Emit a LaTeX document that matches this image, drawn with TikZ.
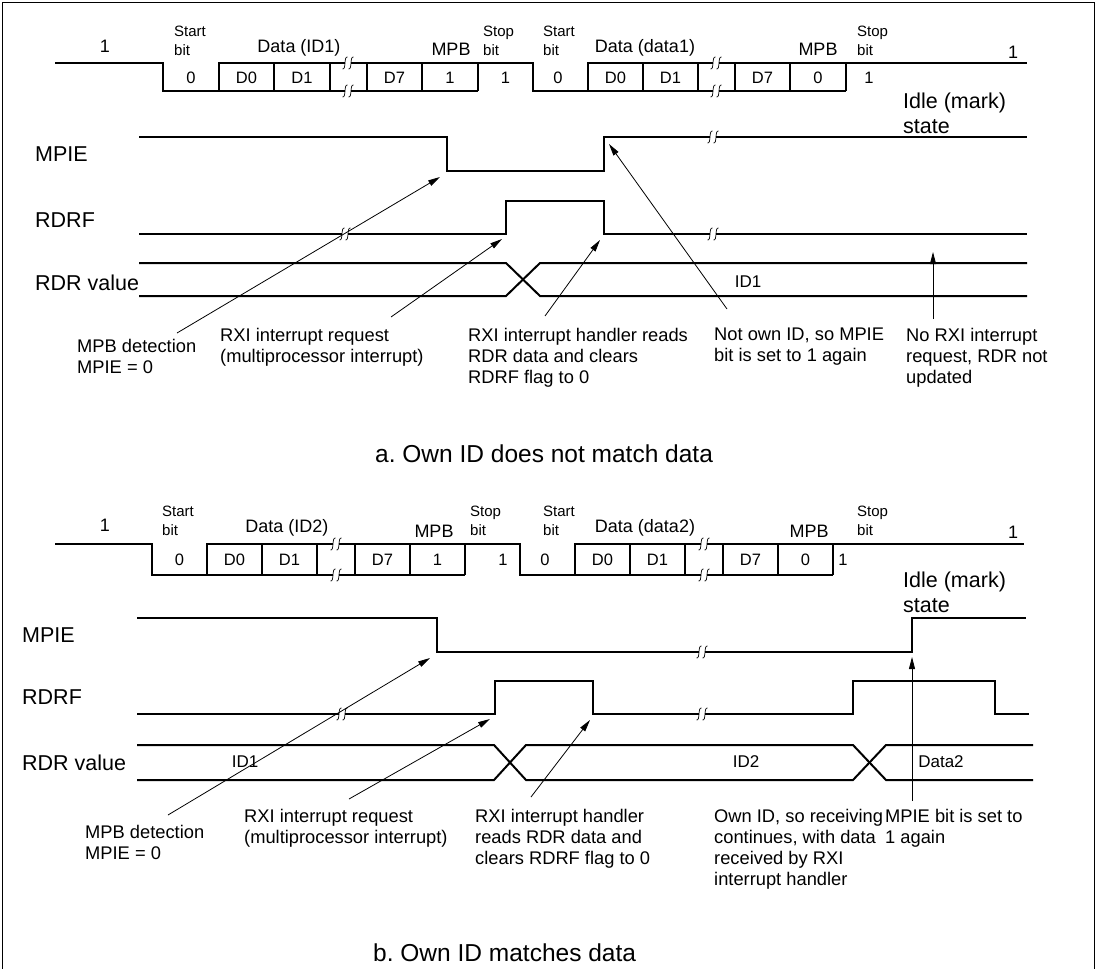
\documentclass[tikz,border=0pt]{standalone}
\usepackage{fontspec}
\setmainfont{Liberation Sans}
\usetikzlibrary{arrows.meta}
\frenchspacing
\newcommand\brkmark[2]{%
  \fill[white] (#1-3,#2-3.5) rectangle (#1+3,#2+3.5);
  \draw[line width=0.7pt] (#1-0.5,#2-6) .. controls (#1-4.5,#2-7) and (#1-1.5,#2+7) .. (#1-5.5,#2+6);
  \draw[line width=0.7pt] (#1+5.5,#2-6) .. controls (#1+1.5,#2-7) and (#1+4.5,#2+7) .. (#1+0.5,#2+6);
}
\tikzset{
  wave/.style={line width=2pt, line join=miter},
  arr/.style={line width=0.8pt, -{Triangle[length=12pt,width=6pt]}},
  note/.style={font=\fontsize{18.3}{21}\selectfont, align=left, anchor=north west, inner sep=0pt},
  sig/.style={font=\fontsize{21.5}{25}\selectfont, align=left, anchor=west, inner sep=0pt},
  idle/.style={font=\fontsize{21.5}{25}\selectfont, align=left, anchor=north west, inner sep=0pt},
  sbit/.style={font=\fontsize{15}{19}\selectfont, align=left, anchor=north west, inner sep=0pt},
  hdr/.style={font=\fontsize{18}{21}\selectfont, inner sep=0pt},
  bitv/.style={font=\fontsize{16.5}{19}\selectfont, inner sep=0pt},
  val/.style={font=\fontsize{17}{19}\selectfont, inner sep=0pt},
  capt/.style={font=\fontsize{24.5}{28}\selectfont, anchor=west, inner sep=0pt},
}
\begin{document}
\begin{tikzpicture}[x=1pt,y=-1pt]
\useasboundingbox (0,0) rectangle (1098,969);
% frame
\draw[line width=1pt] (2,969) -- (2,2) -- (1094,2) -- (1094,969);

% ================= Section a =================
% serial frame
\draw[wave] (55,63) -- (163,63) -- (163,91) -- (478,91);
\draw[wave] (219,91) -- (219,63) -- (533,63) -- (533,91) -- (846,91);
\draw[wave] (588,91) -- (588,63) -- (1027,63);
\foreach \x in {274,330,367,422,478,643,698,735,790,846} \draw[wave] (\x,63) -- (\x,91);
\brkmark{348}{63}\brkmark{348}{91}\brkmark{716}{63}\brkmark{716}{91}
% header labels
\node[hdr] (a1) at (105,46) {1};
\node[sbit] (asb1) at (174,26) {Start\\bit};
\node[hdr] (ad1) at (299,48) {Data (ID1)};
\node[hdr] (ampb1) at (451,49) {MPB};
\node[sbit] (astp1) at (483,26) {Stop\\bit};
\node[sbit] (asb2) at (543,26) {Start\\bit};
\node[hdr] (ad2) at (645,48) {Data (data1)};
\node[hdr] (ampb2) at (818,49) {MPB};
\node[sbit] (astp2) at (857,26) {Stop\\bit};
\node[hdr] (a1r) at (1013,52) {1};
\node[idle] (aidle) at (903,93) {Idle (mark)\\state};
% bit values
\node[bitv] (av1) at (191,78) {0};
\node[bitv] (av2) at (246.5,78) {D0};
\node[bitv] (av3) at (302,78) {D1};
\node[bitv] (av4) at (394.5,78) {D7};
\node[bitv] (av5) at (450,78) {1};
\node[bitv] (av6) at (505.5,78) {1};
\node[bitv] (av7) at (558,78) {0};
\node[bitv] (av8) at (615.5,78) {D0};
\node[bitv] (av9) at (670.5,78) {D1};
\node[bitv] (av10) at (762.5,78) {D7};
\node[bitv] (av11) at (818,78) {0};
\node[bitv] (av12) at (869,78) {1};
% signal labels
\node[sig] (ampie) at (35,154) {MPIE};
\node[sig] (ardrf) at (35,220) {RDRF};
\node[sig] (ardr) at (35,283) {RDR value};
% MPIE
\draw[wave] (139,137) -- (447,137) -- (447,171) -- (604,171) -- (604,137) -- (1027,137);
\brkmark{713}{137}
% RDRF
\draw[wave] (139,234) -- (506,234) -- (506,201) -- (604,201) -- (604,234) -- (1027,234);
\brkmark{345}{234}\brkmark{713}{234}
% RDR value
\draw[wave] (139,263) -- (506,263) -- (540,296) -- (1027,296);
\draw[wave] (139,296) -- (506,296) -- (540,263) -- (1027,263);
\node[val] (aid1) at (748,282) {ID1};
% annotations
\node[note] (an1) at (77,339) {MPB detection\\MPIE = 0};
\node[note] (an2) at (220,328) {RXI interrupt request\\(multiprocessor interrupt)};
\node[note] (an3) at (468,328) {RXI interrupt handler reads\\RDR data and clears\\RDRF flag to 0};
\node[note] (an4) at (714,328) {Not own ID, so MPIE\\bit is set to 1 again};
\node[note] (an5) at (906,328) {No RXI interrupt\\request, RDR not\\updated};
\coordinate (as1) at (177,333); \coordinate (at1) at (440,177);
\coordinate (as2) at (391,317); \coordinate (at2) at (502,239);
\coordinate (as3) at (545,316); \coordinate (at3) at (600,240);
\coordinate (as4) at (727,309); \coordinate (at4) at (609,144);
\coordinate (as5) at (933,319); \coordinate (at5) at (933,252);
\draw[arr] (as1) -- (at1);
\draw[arr] (as2) -- (at2);
\draw[arr] (as3) -- (at3);
\draw[arr] (as4) -- (at4);
\draw[arr] (as5) -- (at5);
\node[capt] (capa) at (375,454) {a. Own ID does not match data};

% ================= Section b =================
\draw[wave] (55,544) -- (152,544) -- (152,575) -- (465,575);
\draw[wave] (207,575) -- (207,544) -- (520,544) -- (520,575) -- (833,575);
\draw[wave] (575,575) -- (575,544) -- (1024,544);
\foreach \x in {262,317,355,410,465,630,685,723,778,833} \draw[wave] (\x,544) -- (\x,575);
\brkmark{336}{544}\brkmark{336}{575}\brkmark{704}{544}\brkmark{704}{575}
\node[hdr] (b1) at (105,525) {1};
\node[sbit] (bsb1) at (162,506) {Start\\bit};
\node[hdr] (bd1) at (287,528) {Data (ID2)};
\node[hdr] (bmpb1) at (434,531) {MPB};
\node[sbit] (bstp1) at (470,506) {Stop\\bit};
\node[sbit] (bsb2) at (543,506) {Start\\bit};
\node[hdr] (bd2) at (645,528) {Data (data2)};
\node[hdr] (bmpb2) at (809,531) {MPB};
\node[sbit] (bstp2) at (857,506) {Stop\\bit};
\node[hdr] (b1r) at (1013,532) {1};
\node[idle] (bidle) at (903,572) {Idle (mark)\\state};
\node[bitv] (bv1) at (179.5,560) {0};
\node[bitv] (bv2) at (234.5,560) {D0};
\node[bitv] (bv3) at (289.5,560) {D1};
\node[bitv] (bv4) at (382.5,560) {D7};
\node[bitv] (bv5) at (437.5,560) {1};
\node[bitv] (bv6) at (503,560) {1};
\node[bitv] (bv7) at (545,560) {0};
\node[bitv] (bv8) at (602.5,560) {D0};
\node[bitv] (bv9) at (657.5,560) {D1};
\node[bitv] (bv10) at (750.5,560) {D7};
\node[bitv] (bv11) at (805.5,560) {0};
\node[bitv] (bv12) at (843,560) {1};
\node[sig] (bmpie) at (22,635) {MPIE};
\node[sig] (brdrf) at (22,697) {RDRF};
\node[sig] (brdr) at (22,763) {RDR value};
% MPIE
\draw[wave] (137,618) -- (437,618) -- (437,652) -- (912,652) -- (912,618) -- (1026,618);
\brkmark{702}{652}
% RDRF
\draw[wave] (137,714) -- (495,714) -- (495,681) -- (593,681) -- (593,714) -- (853,714) -- (853,681) -- (995,681) -- (995,714) -- (1029,714);
\brkmark{342}{714}\brkmark{702}{714}
% RDR value
\draw[wave] (137,745) -- (494,745) -- (526,780) -- (853,780) -- (886,745) -- (1033,745);
\draw[wave] (137,780) -- (494,780) -- (526,745) -- (853,745) -- (886,780) -- (1033,780);
\node[val] (bid1) at (245,762) {ID1};
\node[val] (bid2) at (746,762) {ID2};
\node[val] (bdata2) at (941,762) {Data2};
% annotations
\node[note] (bn1) at (85,825) {MPB detection\\MPIE = 0};
\node[note] (bn2) at (244,809) {RXI interrupt request\\(multiprocessor interrupt)};
\node[note] (bn3) at (475,809) {RXI interrupt handler\\reads RDR data and\\clears RDRF flag to 0};
\node[note] (bn4) at (714,809) {Own ID, so receiving\\continues, with data\\received by RXI\\interrupt handler};
\node[note] (bn5) at (885,809) {MPIE bit is set to\\1 again};
\coordinate (bs1) at (168,815); \coordinate (bt1) at (430,658);
\coordinate (bs2) at (349,799); \coordinate (bt2) at (490,719);
\coordinate (bs3) at (531,797); \coordinate (bt3) at (590,720);
\coordinate (bs4) at (912,801); \coordinate (bt4) at (912,657);
\draw[arr] (bs1) -- (bt1);
\draw[arr] (bs2) -- (bt2);
\draw[arr] (bs3) -- (bt3);
\draw[arr] (bs4) -- (bt4);
\node[capt] (capb) at (373,953) {b. Own ID matches data};
\end{tikzpicture}
\end{document}
